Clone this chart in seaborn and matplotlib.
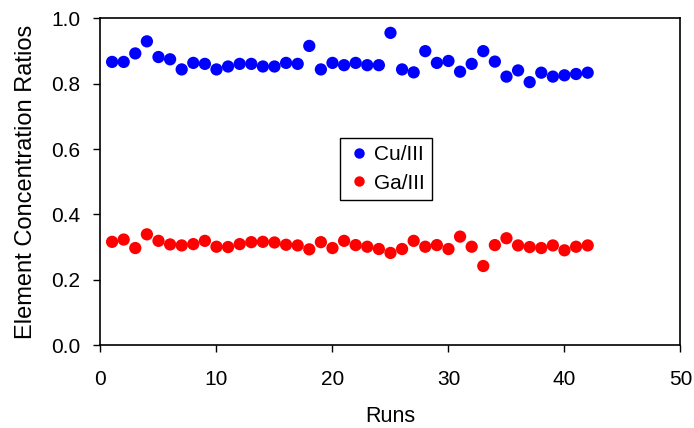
import numpy as np
import pandas as pd
import matplotlib
matplotlib.use('Agg')
import matplotlib.pyplot as plt
import seaborn as sns

runs = list(range(1, 43))
cu_ratio = [0.867, 0.867, 0.893, 0.930, 0.882, 0.875, 0.844, 0.864, 0.861, 0.844,
            0.853, 0.861, 0.861, 0.853, 0.853, 0.864, 0.861, 0.916, 0.844, 0.864,
            0.857, 0.864, 0.857, 0.857, 0.956, 0.844, 0.835, 0.900, 0.864, 0.870,
            0.837, 0.861, 0.900, 0.868, 0.822, 0.841, 0.805, 0.834, 0.822, 0.826,
            0.830, 0.834]
ga_ratio = [0.316, 0.323, 0.297, 0.339, 0.319, 0.308, 0.305, 0.309, 0.319, 0.301,
            0.300, 0.309, 0.315, 0.316, 0.314, 0.307, 0.305, 0.293, 0.315, 0.297,
            0.319, 0.306, 0.301, 0.294, 0.282, 0.294, 0.319, 0.301, 0.306, 0.294,
            0.332, 0.301, 0.242, 0.306, 0.327, 0.305, 0.300, 0.297, 0.305, 0.290,
            0.301, 0.305]
series_names = ['Cu/III', 'Ga/III']
series_colors = ['#0000ff', '#ff0000']

df = pd.DataFrame({
    'Runs': runs * 2,
    'Ratio': cu_ratio + ga_ratio,
    'Series': [series_names[0]] * len(runs) + [series_names[1]] * len(runs),
})

sns.set_style('ticks')
plt.rcParams['font.family'] = ['Liberation Sans', 'DejaVu Sans']
plt.rcParams['text.color'] = 'black'
plt.rcParams['axes.labelcolor'] = 'black'

fig = plt.figure(figsize=(6.94, 4.28), dpi=100)
ax = fig.add_axes([0.1448, 0.1939, 0.8357, 0.7629])

sns.scatterplot(data=df, x='Runs', y='Ratio', hue='Series', hue_order=series_names,
                palette=series_colors, s=78, linewidth=0, ax=ax)

ax.set_xlim(0, 50)
ax.set_ylim(0, 1.0)
ax.set_xticks(np.arange(0, 51, 10))
ax.set_yticks(np.arange(0, 1.01, 0.2))
ax.set_yticklabels([f'{v:.1f}' for v in np.arange(0, 1.01, 0.2)])
ax.tick_params(direction='out', length=5, width=1, labelsize=15, colors='black')
ax.tick_params(axis='x', pad=13)
ax.tick_params(axis='y', pad=9.5)
for sp in ax.spines.values():
    sp.set_visible(True)
    sp.set_color('black')
    sp.set_linewidth(1.2)

ax.set_xlabel('Runs', fontsize=15.5, labelpad=12)
ax.set_ylabel('Element Concentration Ratios', fontsize=17, labelpad=10)

leg = ax.legend(loc='center', bbox_to_anchor=(0.492, 0.539), fontsize=15,
                frameon=True, fancybox=False, edgecolor='black', framealpha=1,
                handletextpad=0.1, borderpad=0.35, labelspacing=0.45,
                handlelength=1.2, markerscale=0.85)
leg.get_frame().set_linewidth(1.0)

fig.savefig('out.png', dpi=100)
